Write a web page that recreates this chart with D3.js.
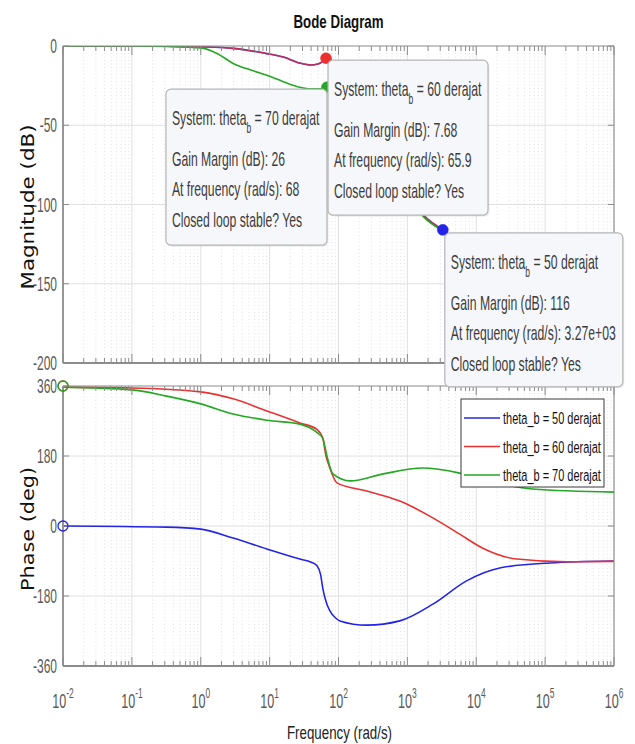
<!DOCTYPE html>
<html><head><meta charset="utf-8">
<script src="https://cdn.jsdelivr.net/npm/d3@7"></script>
<style>body{margin:0;background:#fff}</style>
</head><body>
<svg id="c" width="635" height="744"></svg>
<script>
// ---------- DATA ----------
const seriesNames  = ["theta_b = 50 derajat", "theta_b = 60 derajat", "theta_b = 70 derajat"];
const seriesColors = ["#2424e8", "#ec3030", "#22a822"];
const xTickExp  = [-2, -1, 0, 1, 2, 3, 4, 5, 6];
const magTicks  = [0, -50, -100, -150, -200];
const phTicks   = [360, 180, 0, -180, -360];

// Magnitude (dB)
const magFreq50 = [0.01, 0.1, 0.316, 1, 2.95, 9.1, 15.8, 27.5, 39.8, 50.1, 60.3, 65.9, 72.4, 79.4, 100, 200, 501, 1000, 1585, 3270, 1e4, 1e5, 1e6];
const mag50     = [0, 0, -0.1, -0.5, -1.5, -4.8, -7, -10.8, -12, -11.4, -9.4, -7.8, -6.6, -10, -20, -42, -70, -91, -105, -116, -131, -153, -175];
const magFreq60 = [0.01, 0.1, 0.316, 1, 2.95, 9.1, 15.8, 27.5, 39.8, 50.1, 60.3, 65.9, 72.4, 79.4, 100, 200, 501, 1000, 1585, 3270, 1e4, 1e5, 1e6];
const mag60     = [0, 0, -0.1, -0.5, -1.5, -4.8, -7, -10.8, -12, -11.4, -9.3, -7.68, -6.5, -10, -20, -42, -70, -91, -105, -116, -131, -153, -175];
const magFreq70 = [0.01, 0.1, 0.316, 1, 1.78, 2.95, 5.62, 9.1, 15.8, 27.5, 39.8, 56, 68, 75, 85, 100, 200, 501, 1000, 1585, 3270, 1e4, 1e5, 1e6];
const mag70     = [0, 0, -0.3, -1.2, -5, -11, -15.5, -18.5, -22.5, -26, -27, -27, -26, -25.5, -28, -33, -48, -73, -92, -106, -117, -132, -154, -176];

// Phase (deg)
const phFreq50 = [0.01, 0.316, 1, 2.95, 9.1, 27.5, 40, 49, 55, 59, 66, 75, 90, 105, 257, 776, 2344, 7240, 21900, 117000, 1e6];
const ph50     = [0, -3, -8, -31, -59, -85, -93, -103, -125, -159, -195, -218, -236, -244, -255, -244, -201, -141, -108, -95, -90];
const phFreq60 = [0.01, 0.1, 1, 2.95, 9.1, 27.5, 49, 59, 65.9, 75, 95, 257, 776, 2344, 5750, 12470, 38900, 204000, 1e6];
const ph60     = [357, 355, 345, 327, 296, 265, 248, 226, 180, 149, 111, 90, 64, 21, -21, -57, -85, -92, -91];
const phFreq70 = [0.01, 0.1, 0.32, 1, 2.95, 9.1, 27.5, 49, 59, 68, 83, 148, 447, 1660, 5750, 15800, 66000, 1e6];
const ph70     = [357, 350, 334, 314, 288, 272, 262, 240, 226, 180, 134, 116, 134, 149, 136, 115, 95, 87];

// Gain-margin datatips
const gmFreq   = [3270, 65.9, 68];
const gmDb     = [-116, -7.68, -26];
const tipTheta = ["50", "60", "70"];
const tipGm    = ["116", "7.68", "26"];
const tipFreq  = ["3.27e+03", "65.9", "68"];
const tipStable= ["Yes", "Yes", "Yes"];
// start markers on phase plot
const phMarkFreq = [0.01, 0.01, 0.01];
const phMarkDeg  = [0, 360, 360];

// ---------- LAYOUT ----------
const svg = d3.select("#c");
const X0 = 63, X1 = 614;
const M_TOP = 46, M_BOT = 363, P_TOP = 386, P_BOT = 666;
const x = d3.scaleLog().domain([1e-2, 1e6]).range([X0, X1]);
const yMag = d3.scaleLinear().domain([-200, 0]).range([M_BOT, M_TOP]);
const yPh  = d3.scaleLinear().domain([-360, 360]).range([P_BOT, P_TOP]);

const SANS = "'Liberation Sans', Arial, Helvetica, sans-serif";

function txt(parent, px, py, str, o) {
  o = o || {};
  const g = parent.append("g").attr("transform", `translate(${px},${py}) scale(${o.sx || 0.61},1)`);
  const t = g.append("text")
    .attr("font-family", SANS)
    .attr("font-size", o.size || 20)
    .attr("font-weight", o.weight || "normal")
    .attr("fill", o.fill || "#555")
    .attr("text-anchor", o.anchor || "start");
  if (str !== null) t.text(str);
  return t;
}

function zip(a, b) { return a.map((v, i) => [v, b[i]]); }

const minorVals = [];
for (let d = -2; d < 6; d++) for (let k = 2; k <= 9; k++) minorVals.push(k * Math.pow(10, d));
const majorVals = xTickExp.map(e => Math.pow(10, e));

function panel(yScale, ticks, top, bot, clipId) {
  const g = svg.append("g");
  g.selectAll(".mg").data(minorVals).enter().append("line")
    .attr("x1", d => x(d)).attr("x2", d => x(d)).attr("y1", top).attr("y2", bot)
    .attr("stroke", "#e2e2e2").attr("stroke-width", 1).attr("stroke-dasharray", "1,2.5");
  g.selectAll(".Mg").data(majorVals.slice(1, -1)).enter().append("line")
    .attr("x1", d => x(d)).attr("x2", d => x(d)).attr("y1", top).attr("y2", bot)
    .attr("stroke", "#e0e0e0").attr("stroke-width", 1);
  g.selectAll(".hg").data(ticks.slice(1, -1)).enter().append("line")
    .attr("x1", X0).attr("x2", X1).attr("y1", d => yScale(d)).attr("y2", d => yScale(d))
    .attr("stroke", "#e0e0e0").attr("stroke-width", 1);
  svg.append("clipPath").attr("id", clipId).append("rect")
    .attr("x", X0).attr("y", top).attr("width", X1 - X0).attr("height", bot - top);
  return g;
}

function frame(yScale, ticks, top, bot) {
  const g = svg.append("g").attr("stroke", "#8c8c8c");
  g.selectAll(".bm").data(minorVals).enter().append("line")
    .attr("x1", d => x(d)).attr("x2", d => x(d)).attr("y1", bot).attr("y2", bot - 5).attr("stroke-width", 1);
  g.selectAll(".tm").data(minorVals).enter().append("line")
    .attr("x1", d => x(d)).attr("x2", d => x(d)).attr("y1", top).attr("y2", top + 5).attr("stroke-width", 1);
  g.selectAll(".bM").data(majorVals).enter().append("line")
    .attr("x1", d => x(d)).attr("x2", d => x(d)).attr("y1", bot).attr("y2", bot - 9).attr("stroke-width", 1);
  g.selectAll(".tM").data(majorVals).enter().append("line")
    .attr("x1", d => x(d)).attr("x2", d => x(d)).attr("y1", top).attr("y2", top + 9).attr("stroke-width", 1);
  g.selectAll(".ly").data(ticks).enter().append("line")
    .attr("x1", X0).attr("x2", X0 + 6).attr("y1", d => yScale(d)).attr("y2", d => yScale(d)).attr("stroke-width", 1);
  g.selectAll(".ry").data(ticks).enter().append("line")
    .attr("x1", X1).attr("x2", X1 - 6).attr("y1", d => yScale(d)).attr("y2", d => yScale(d)).attr("stroke-width", 1);
  g.append("line").attr("x1", X0).attr("x2", X1).attr("y1", top).attr("y2", top).attr("stroke-width", 1.2);
  g.append("line").attr("x1", X1).attr("x2", X1).attr("y1", top).attr("y2", bot).attr("stroke-width", 1.2);
  g.append("line").attr("x1", X0).attr("x2", X1).attr("y1", bot).attr("y2", bot).attr("stroke-width", 1.8);
  g.append("line").attr("x1", X0).attr("x2", X0).attr("y1", top).attr("y2", bot).attr("stroke-width", 1.8);
  ticks.forEach(t => txt(svg, 57, yScale(t) + 7, String(t), { anchor: "end", size: 20, sx: 0.6, fill: "#5a5a5a" }));
}

// ---------- MAGNITUDE ----------
panel(yMag, magTicks, M_TOP, M_BOT, "clipM");
const magLine = d3.line().x(d => x(d[0])).y(d => yMag(d[1])).curve(d3.curveMonotoneX);
const magG = svg.append("g").attr("clip-path", "url(#clipM)").attr("fill", "none").attr("stroke-width", 1.6);
magG.append("path").attr("d", magLine(zip(magFreq50, mag50))).attr("stroke", seriesColors[0]);
magG.append("path").attr("d", magLine(zip(magFreq60, mag60))).attr("stroke", seriesColors[1]).attr("stroke-opacity", 0.75);
magG.append("path").attr("d", magLine(zip(magFreq70, mag70))).attr("stroke", seriesColors[2]);
frame(yMag, magTicks, M_TOP, M_BOT);

// ---------- PHASE ----------
panel(yPh, phTicks, P_TOP, P_BOT, "clipP");
const phLine = d3.line().x(d => x(d[0])).y(d => yPh(d[1])).curve(d3.curveMonotoneX);
const phG = svg.append("g").attr("clip-path", "url(#clipP)").attr("fill", "none").attr("stroke-width", 1.6);
phG.append("path").attr("d", phLine(zip(phFreq50, ph50))).attr("stroke", seriesColors[0]);
phG.append("path").attr("d", phLine(zip(phFreq60, ph60))).attr("stroke", seriesColors[1]);
phG.append("path").attr("d", phLine(zip(phFreq70, ph70))).attr("stroke", seriesColors[2]);
frame(yPh, phTicks, P_TOP, P_BOT);

phMarkFreq.forEach((f, i) => {
  svg.append("circle").attr("cx", x(f)).attr("cy", yPh(phMarkDeg[i])).attr("r", 5)
    .attr("fill", "none").attr("stroke", seriesColors[i]).attr("stroke-width", 1.3);
});

// ---------- LEGEND ----------
const leg = svg.append("g");
leg.append("rect").attr("x", 461).attr("y", 399).attr("width", 143).attr("height", 88)
  .attr("fill", "#fff").attr("stroke", "#3a3a3a").attr("stroke-width", 1);
seriesNames.forEach((n, i) => {
  const yy = 418 + i * 28.5;
  leg.append("line").attr("x1", 464).attr("x2", 500).attr("y1", yy).attr("y2", yy)
    .attr("stroke", seriesColors[i]).attr("stroke-width", 1.6);
  txt(leg, 503, yy + 6, n, { size: 17, sx: 0.646, fill: "#111" });
});

// ---------- X TICK LABELS ----------
xTickExp.forEach(e => {
  const t = txt(svg, x(Math.pow(10, e)), 708, null, { anchor: "middle", size: 21, sx: 0.6, fill: "#5a5a5a" });
  t.append("tspan").text("10");
  t.append("tspan").attr("dy", -10).attr("font-size", 14).text(String(e));
});

// ---------- GAIN MARGIN MARKERS ----------
[0, 2, 1].forEach(i => {
  svg.append("circle").attr("cx", x(gmFreq[i])).attr("cy", yMag(gmDb[i])).attr("r", 5.5)
    .attr("fill", seriesColors[i]).attr("stroke", seriesColors[i]).attr("stroke-width", 0.5);
});

// ---------- DATATIPS ----------
function datatip(i, bx, by, w, h) {
  const g = svg.append("g");
  g.append("rect").attr("x", bx + 1.5).attr("y", by + 1.5).attr("width", w).attr("height", h).attr("rx", 5)
    .attr("fill", "rgba(0,0,0,0.07)");
  g.append("rect").attr("x", bx).attr("y", by).attr("width", w).attr("height", h).attr("rx", 5)
    .attr("fill", "#f6f7fa").attr("stroke", "#b5b5b5").attr("stroke-width", 1.2);
  const tx = bx + 6;
  const c = "#3c3c3c";
  const t1 = txt(g, tx, by + 36, null, { size: 20, fill: c });
  t1.append("tspan").text("System: theta");
  t1.append("tspan").attr("dy", 8).attr("font-size", 14).text("b");
  t1.append("tspan").attr("dy", -8).text(" = " + tipTheta[i] + " derajat");
  txt(g, tx, by + 77, "Gain Margin (dB): " + tipGm[i], { size: 20, fill: c });
  txt(g, tx, by + 107, "At frequency (rad/s): " + tipFreq[i], { size: 20, fill: c });
  txt(g, tx, by + 138, "Closed loop stable? " + tipStable[i], { size: 20, fill: c });
}
datatip(2, x(gmFreq[2]) - 161, yMag(gmDb[2]) + 2, 161, 156);
datatip(1, x(gmFreq[1]) + 2, yMag(gmDb[1]) + 2, 160, 155);
datatip(0, x(gmFreq[0]) + 2, yMag(gmDb[0]) + 3, 178, 154);

// ---------- TITLES ----------
txt(svg, (X0 + X1) / 2, 28, "Bode Diagram", { anchor: "middle", size: 19, sx: 0.7, weight: "bold", fill: "#111" });
txt(svg, (X0 + X1) / 2 + 1, 739, "Frequency  (rad/s)", { anchor: "middle", size: 18, sx: 0.74, fill: "#222" });

svg.append("text")
  .attr("transform", "translate(34,207) rotate(-90)")
  .attr("text-anchor", "middle")
  .attr("font-family", "'DejaVu Sans', Verdana, sans-serif")
  .attr("font-size", 17).attr("fill", "#111")
  .attr("textLength", 165).attr("lengthAdjust", "spacingAndGlyphs")
  .text("Magnitude (dB)");
svg.append("text")
  .attr("transform", "translate(34,529) rotate(-90)")
  .attr("text-anchor", "middle")
  .attr("font-family", "'DejaVu Sans', Verdana, sans-serif")
  .attr("font-size", 17).attr("fill", "#111")
  .attr("textLength", 124).attr("lengthAdjust", "spacingAndGlyphs")
  .text("Phase (deg)");
</script>
</body></html>
